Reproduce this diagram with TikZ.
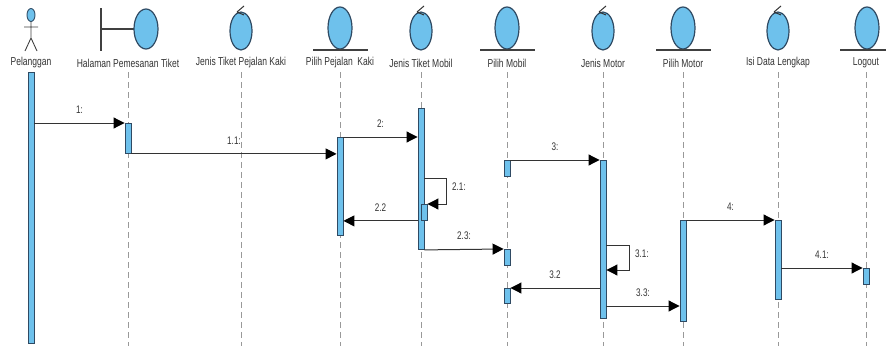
\documentclass[tikz,border=0pt]{standalone}
\usepackage{fontspec}
\setmainfont{Liberation Sans}[FakeStretch=0.74]
\usetikzlibrary{arrows.meta}
\definecolor{barfill}{HTML}{6EC1EC}
\definecolor{barline}{HTML}{2F4A63}
\definecolor{lifegray}{HTML}{999999}
\definecolor{txt}{HTML}{333333}
\tikzset{
  bar/.style={draw=barline, fill=barfill, line width=0.9pt, minimum width=6pt, inner sep=0pt, anchor=north},
  life/.style={draw=lifegray, dashed, dash pattern=on 6pt off 4pt, line width=0.9pt},
  msg/.style={draw=black!80, line width=1pt, -{Triangle[length=11pt,width=11pt,color=black]}},
  mlabel/.style={font=\fontsize{11}{12}\selectfont, text=txt, inner sep=1pt},
  hlabel/.style={font=\fontsize{11.5}{13}\selectfont, text=txt, inner sep=1pt},
  obj/.style={draw=barline, fill=barfill, line width=1.2pt},
  under/.style={draw=black!75, line width=1.2pt}
}
\begin{document}
\begin{tikzpicture}[x=1pt,y=-1pt]
\useasboundingbox (0,0) rectangle (886,348);
% ---------- heads ----------
% actor
\draw[obj, line width=0.9pt] (31,15) ellipse [x radius=4, y radius=6.5];
\draw[black!75, line width=0.9pt] (31,21.5) -- (31,38) (24,27) -- (38,27) (25,51) -- (31,38) -- (37,51);
% boundary
\draw[under] (101,8) -- (101,51) (101,29) -- (134,29);
\draw[obj] (146,29) ellipse [x radius=12, y radius=20];
% controls
\foreach \x in {241,421,603,778}{
  \draw[obj] (\x,31) ellipse [x radius=11, y radius=19];
  \draw[black!80, line width=1pt] (\x-4,12) -- (\x+3,6) (\x-4,12) -- (\x+3,15);
}
% entities
\foreach \x in {340,507,683,867}{
  \draw[obj] (\x,28) ellipse [x radius=12, y radius=21];
  \draw[under] (\x-27,50) -- (\x+28,50);
}
% ---------- labels ----------
\node[hlabel] (lpel) at (31,63) {Pelanggan};
\node[hlabel] (lhal) at (128,63) {Halaman Pemesanan Tiket};
\node[hlabel] (ljtp) at (241,63) {Jenis Tiket Pejalan Kaki};
\node[hlabel] (lppk) at (340,63) {Pilih Pejalan\ \ Kaki};
\node[hlabel] (ljtm) at (421,63) {Jenis Tiket Mobil};
\node[hlabel] (lpm) at (507,63) {Pilih Mobil};
\node[hlabel] (ljm) at (603,63) {Jenis Motor};
\node[hlabel] (lpmo) at (683,63) {Pilih Motor};
\node[hlabel] (lidl) at (778,63) {Isi Data Lengkap};
\node[hlabel] (llog) at (866,63) {Logout};
% ---------- lifelines ----------
\coordinate (ehal) at (128,346);
\coordinate (ejtp) at (241,346);
\coordinate (eppk) at (340,346);
\coordinate (ejtm) at (421,346);
\coordinate (epm) at (507,346);
\coordinate (ejm) at (603,346);
\coordinate (epmo) at (683,346);
\coordinate (eidl) at (778,346);
\coordinate (elog) at (866,346);
\draw[life] (128,72) -- (ehal);
\draw[life] (241,72) -- (ejtp);
\draw[life] (340,72) -- (eppk);
\draw[life] (421,72) -- (ejtm);
\draw[life] (507,72) -- (epm);
\draw[life] (603,72) -- (ejm);
\draw[life] (683,72) -- (epmo);
\draw[life] (778,72) -- (eidl);
\draw[life] (866,72) -- (elog);
% ---------- activation bars ----------
\node[bar, minimum height=271pt] (bpel) at (31,72) {};
\node[bar, minimum height=30pt] (bhal) at (128,123) {};
\node[bar, minimum height=98pt] (bppk) at (340,137) {};
\node[bar, minimum height=141pt] (bjtm) at (421,108) {};
\node[bar, minimum height=16pt] (bjtm2) at (424,204) {};
\node[bar, minimum height=16pt] (bpm1) at (507,160) {};
\node[bar, minimum height=16pt] (bpm2) at (507,249) {};
\node[bar, minimum height=15pt] (bpm3) at (507,288) {};
\node[bar, minimum height=158pt] (bjm) at (603,160) {};
\node[bar, minimum height=101pt] (bpmo) at (683,220) {};
\node[bar, minimum height=79pt] (bidl) at (778,220) {};
\node[bar, minimum height=16pt] (blog) at (866,268) {};
% ---------- messages ----------
\draw[msg] (bpel.east |- bhal.north) -- node[mlabel, above=8pt, pos=0.5] {1:} (bhal.north west);
\draw[msg] (bhal.south east) -- node[mlabel, above=8pt, pos=0.5] {1.1:} (bhal.south east -| bppk.west);
\draw[msg] (bppk.north east) -- node[mlabel, above=8pt] {2:} (bppk.north east -| bjtm.west);
\coordinate (s21a) at (446,178);
\coordinate (s21b) at (446,204);
\draw[msg] (bjtm.east |- s21a) -- (s21a) -- (s21b) -- (bjtm2.north east);
\node[mlabel, anchor=west] (l21) at (451,187) {2.1:};
\draw[msg] (bjtm.west |- bjtm2.south) -- node[mlabel, above=8pt] {2.2} (bjtm2.south -| bppk.east);
\draw[msg] (bjtm.south east) -- node[mlabel, above=8pt] {2.3:} (bpm2.north west);
\draw[msg] (bpm1.north east) -- node[mlabel, above=8pt] {3:} (bjm.north west);
\coordinate (s31a) at (629,245);
\coordinate (s31b) at (629,270);
\draw[msg] (bjm.east |- s31a) -- (s31a) -- (s31b) -- (bjm.east |- s31b);
\node[mlabel, anchor=west] (l31) at (634,254) {3.1:};
\draw[msg] (bjm.west |- bpm3.north) -- node[mlabel, above=8pt] {3.2} (bpm3.north east);
\coordinate (m33) at (606,306);
\draw[msg] (bjm.east |- m33) -- node[mlabel, above=8pt] {3.3:} (bpmo.west |- m33);
\draw[msg] (bpmo.north east) -- node[mlabel, above=8pt] {4:} (bidl.north west);
\draw[msg] (bidl.east |- blog.north) -- node[mlabel, above=8pt] {4.1:} (blog.north west);
\end{tikzpicture}
\end{document}
